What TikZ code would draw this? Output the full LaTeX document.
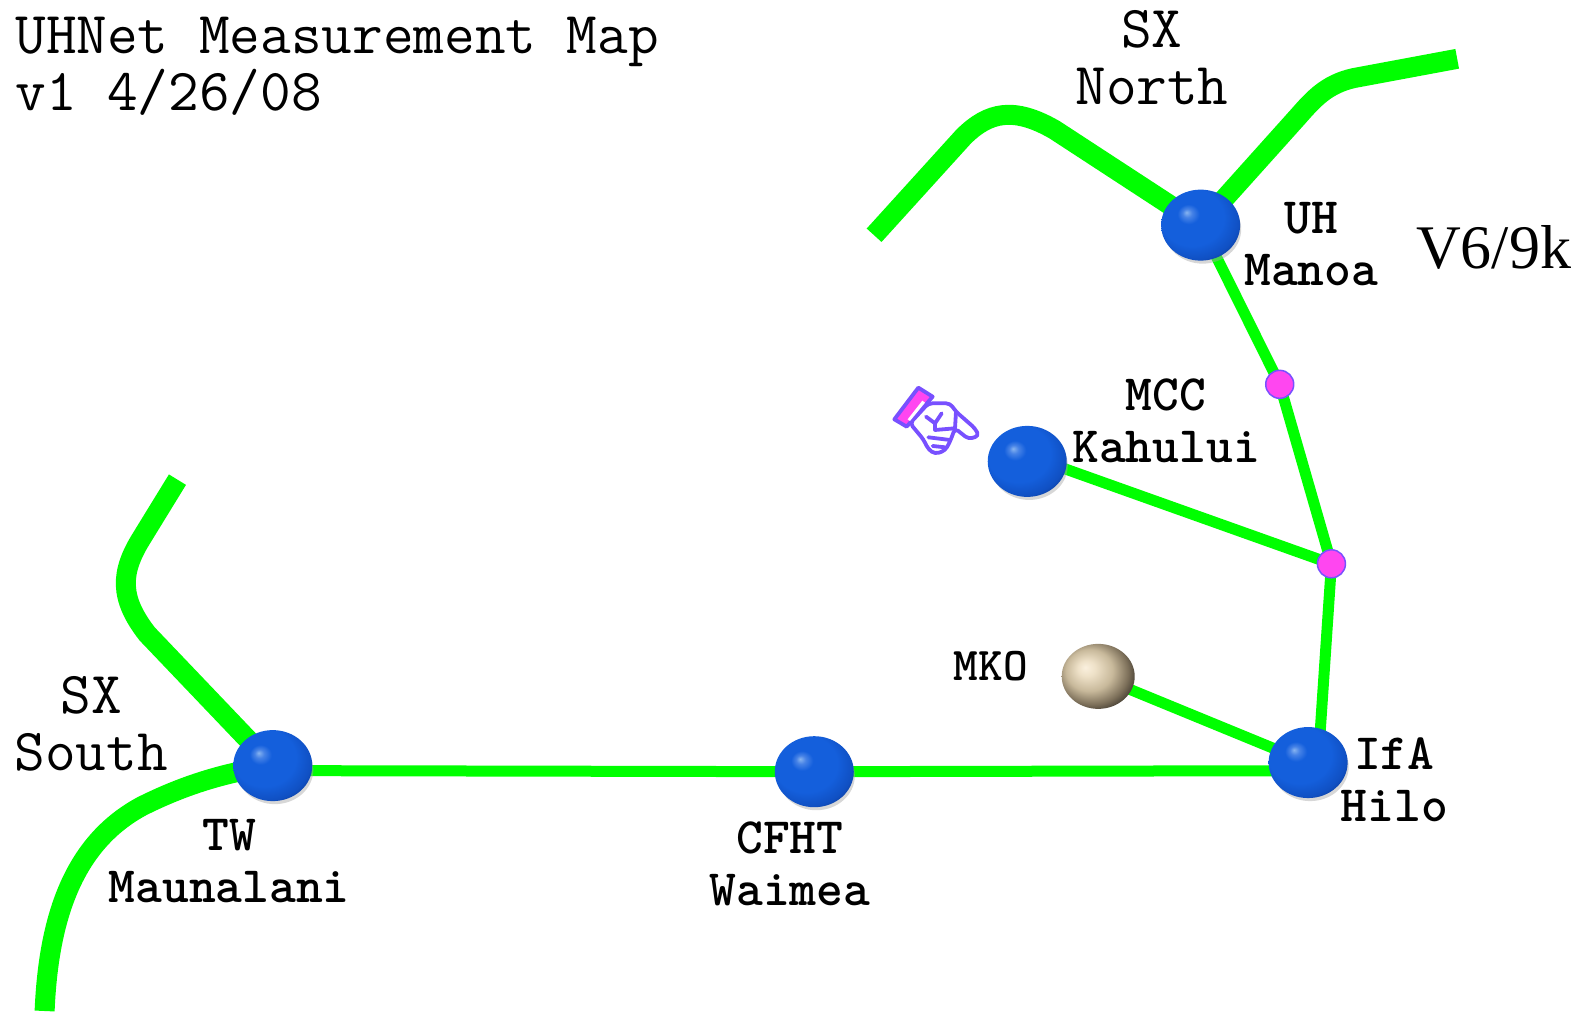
\documentclass[tikz,border=0pt]{standalone}
\usepackage{fontspec}
\newfontfamily\timesf{Liberation Serif}
\usetikzlibrary{backgrounds,shapes.geometric}
\definecolor{ha}{RGB}{135,180,240}
\definecolor{hb}{RGB}{70,130,230}
\definecolor{hc}{RGB}{20,95,220}
\definecolor{hd}{RGB}{16,80,195}
\definecolor{he}{RGB}{8,40,115}
\definecolor{sa}{RGB}{250,240,222}
\definecolor{sb}{RGB}{238,225,200}
\definecolor{sc}{RGB}{200,185,155}
\definecolor{sd}{RGB}{125,112,90}
\definecolor{se}{RGB}{40,36,30}
\definecolor{linkgreen}{RGB}{0,255,0}
\definecolor{pinkdot}{RGB}{255,70,240}
\definecolor{purpleedge}{RGB}{120,80,255}
\pgfdeclareradialshading{bluesphere}{\pgfpoint{-9bp}{9bp}}{
 color(0bp)=(ha); color(3bp)=(hb); color(7bp)=(hc); color(20bp)=(hc); color(28bp)=(hd); color(36bp)=(he); color(50bp)=(he)}
\pgfdeclareradialshading{stonesphere}{\pgfpoint{-9bp}{7bp}}{
 color(0bp)=(sa); color(6bp)=(sb); color(16bp)=(sc); color(25bp)=(sd); color(33bp)=(se); color(50bp)=(se)}
\newcommand{\labelfont}{\ttfamily\bfseries\fontsize{51}{52}\selectfont}
\newcommand{\bigfont}{\ttfamily\fontsize{59.5}{57}\selectfont}
\tikzset{
 site/.style={ellipse,inner sep=0pt,minimum width=79pt,minimum height=71pt,shading=bluesphere},
 thinlink/.style={draw=linkgreen,line width=11pt},
 thicklink/.style={draw=linkgreen,line width=20pt},
 joint/.style={circle,inner sep=0pt,minimum size=28pt,fill=pinkdot,draw=purpleedge,line width=1.5pt},
 shadowblob/.style={fill=black!35,opacity=.45},
 lbl/.style={inner sep=0pt,align=center,text=black},
 handline/.style={draw=purpleedge,line width=3.8pt,line join=round,line cap=round}
}
\begin{document}
\begin{tikzpicture}[x=1.014pt,y=-1.014pt]
\useasboundingbox (0,0) rectangle (1567,997);
% shadows
\foreach \p in {(1186,226),(1015,459),(1292,756),(271,759),(805,765)}
  \fill[shadowblob] \p ellipse (38 and 34);
% nodes
\node[site] (uh) at (1184,222) {};
\node[site] (mcc) at (1013,455) {};
\node[site,shading=stonesphere,minimum width=73pt,minimum height=65pt] (mko) at (1083,667) {};
\node[site] (ifa) at (1290,752) {};
\node[site] (tw) at (269,755) {};
\node[site] (cfht) at (803,761) {};
\node[joint] (j1) at (1262,379) {};
\node[joint] (j2) at (1313,556) {};
\coordinate (nw) at (862,232);
\coordinate (ne) at (1437,58);
\coordinate (sn) at (175,473);
\coordinate (ss) at (44,997);
% connectors
\begin{scope}[on background layer]
\draw[thinlink] ([yshift=-5pt]tw.center) -- (cfht.center);
\draw[thinlink] (cfht.center) -- (1290,760);
\draw[thinlink] (uh.center) -- (j1.center);
\draw[thinlink] (j1.center) -- (j2.center);
\draw[thinlink] (j2.center) -- ([xshift=10pt]ifa.center);
\draw[thinlink] ([yshift=6pt]mcc.center) -- (j2.center);
\draw[thinlink] (mko.center) -- (ifa.center);
\draw[thicklink] (nw) -- (950,135) .. controls (975,110) and (1000,105) .. (1040,128) -- (uh.center);
\draw[thicklink] (ne) -- (1335,77) .. controls (1308,83) and (1295,98) .. (1280,115) -- (uh.center);
\draw[thicklink] (sn) -- (140,530) .. controls (118,565) and (118,590) .. (145,625) -- (tw.center);
\draw[thicklink] (ss) .. controls (48,900) and (75,830) .. (140,795) .. controls (180,775) and (220,762) .. (tw.center);
\end{scope}
% hand
\begin{scope}[shift={(848.1,355)},x=0.3333pt,y=-0.3333pt]
\path[handline,fill=white,rounded corners=4pt] (205,130) -- (270,130) -- (288,155) -- (345,205) -- (357,228) -- (325,237) -- (285,205) -- (270,245) -- (255,272) -- (225,282) -- (205,268) -- (190,238) -- (150,190) -- cycle;
\path[handline,fill=pinkdot] (175,83) -- (218,110) -- (140,200) -- (103,178) -- cycle;
\path[fill=white] (187,122) -- (195,128) -- (150,183) -- (143,178) -- cycle;
\draw[handline] (198,170) -- (225,190) -- (245,160);
\draw[handline] (225,190) -- (225,210) -- (285,205);
\draw[handline] (205,232) -- (270,240);
\draw[handline] (218,258) -- (255,262);
\draw[handline] (288,155) -- (285,205);
\end{scope}
% labels
\node[lbl,anchor=west,align=left,font=\bigfont] (title) at (15,65) {UHNet Measurement Map\\v1 4/26/08};
\node[lbl,font=\bigfont] (sxn) at (1136,57) {SX\\North};
\node[lbl,font=\bigfont] (sxs) at (90,714) {SX\\South};
\node[lbl,font=\labelfont] (uhl) at (1293,241) {UH\\Manoa};
\node[lbl,font=\labelfont] (mccl) at (1150,415) {MCC\\Kahului};
\node[lbl] (mkol) at (977,657) {\ttfamily\bfseries\fontsize{47}{50}\selectfont MKO};
\node[lbl,font=\labelfont] (ifal) at (1375,769) {IfA\\Hilo};
\node[lbl,font=\labelfont] (twl) at (226,849) {TW\\Maunalani};
\node[lbl,font=\labelfont] (cfhtl) at (779,852) {CFHT\\Waimea};
\node[lbl] (v6) at (1473,244) {\timesf\fontsize{62}{62}\selectfont V6/9k};
\end{tikzpicture}
\end{document}
